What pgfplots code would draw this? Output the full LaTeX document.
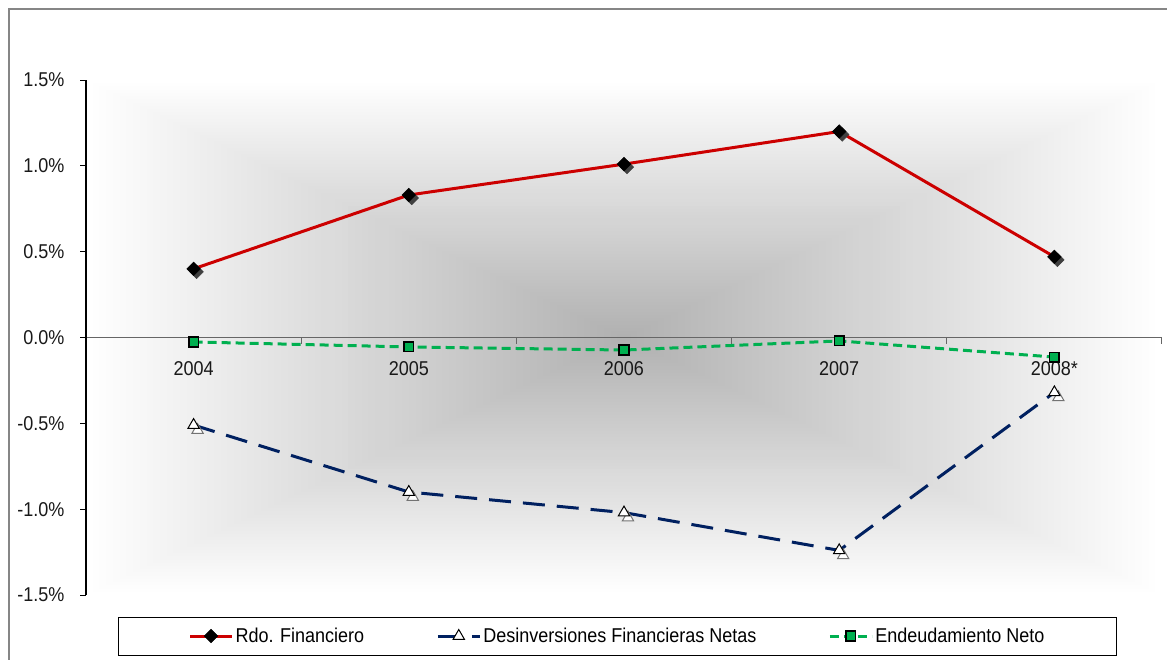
\documentclass[border=0pt]{standalone}
\usepackage{pgfplots}
\pgfplotsset{compat=1.18}
\usepackage{pgfplotstable}
\usepackage{fontspec}
\setmainfont[FakeStretch=0.9]{Liberation Sans}

\definecolor{rdoc}{RGB}{204,0,0}
\definecolor{desc}{RGB}{0,32,96}
\definecolor{endc}{RGB}{0,176,80}
\definecolor{bgc}{gray}{0.69}
\definecolor{framec}{RGB}{134,134,134}

% Resultado financiero, desinversiones y endeudamiento (% del PIB)
\pgfplotstableread{
x rdo des end
0 0.40 -0.51 -0.026
1 0.83 -0.90 -0.055
2 1.01 -1.02 -0.073
3 1.20 -1.24 -0.020
4 0.47 -0.32 -0.114
}\datatab

\begin{document}
\begin{tikzpicture}[x=1pt,y=1pt]
\useasboundingbox (0,0) rectangle (1167,-659);

% chart frame
\begin{scope}
  \clip (0,0) rectangle (1167,-659);
  \draw[framec, line width=2pt] (1200,-9) -- (9,-9) -- (9,-700);
\end{scope}

% plot area fill: rectangular gradient, grey in the centre, white at the edges
\foreach \i in {0,...,79}{
  \pgfmathsetmacro{\t}{1-\i/80}
  \pgfmathsetmacro{\p}{100*(1-\t)}
  \fill[bgc!\p!white] (624-538*\t,-337.5-257.5*\t) rectangle (624+538*\t,-337.5+257.5*\t);
}

\begin{axis}[
  at={(86pt,-595pt)}, anchor=south west,
  scale only axis, width=1076pt, height=515pt,
  xmin=-0.5, xmax=4.5, ymin=-1.5, ymax=1.5,
  axis x line*=middle, axis y line*=left,
  x axis line style={draw=black!60, line width=1.2pt},
  y axis line style={draw=black, line width=2pt},
  xtick={0,...,4}, xticklabels={2004,2005,2006,2007,2008*},
  major x tick style={draw=none},
  minor xtick={-0.5,0.5,1.5,2.5,3.5,4.5},
  minor x tick style={draw=black!60, line width=1pt},
  minor tick length=6pt,
  ytick={-1.5,-1,...,1.5},
  yticklabels={-1.5\%,-1.0\%,-0.5\%,0.0\%,0.5\%,1.0\%,1.5\%},
  y tick style={draw=black, line width=1pt},
  major tick length=6pt,
  tick align=outside,
  tick label style={font=\fontsize{20}{24}\selectfont, text=black!90},
  xticklabel style={yshift=-14pt},
  yticklabel style={xshift=-12pt},
  clip=false,
  legend columns=3,
  legend style={at={(0.494,-0.0796)}, anchor=center, draw=black, line width=1pt,
    font=\fontsize{20}{24}\selectfont, inner xsep=70pt, inner ysep=9pt,
    /tikz/every even column/.append style={column sep=70pt}},
  legend image code/.code={\draw[mark repeat=2,mark phase=2,#1]
    plot coordinates {(0pt,0pt) (21pt,0pt) (42pt,0pt)};},
]
% marker shadows
\addplot[forget plot, only marks, mark=square*, mark size=4.8pt,
  mark options={xshift=3pt, yshift=-3pt, rotate=45, fill=black!75, draw=black!75}]
  table[x=x, y=rdo]{\datatab};
\addplot[forget plot, only marks, mark=triangle*, mark size=6.5pt,
  mark options={xshift=4pt, yshift=-5pt, fill=white, draw=black!55, line width=1pt}]
  table[x=x, y=des]{\datatab};

\addplot[rdoc, line width=3pt, mark=square*, mark size=4.8pt,
  mark options={rotate=45, solid, fill=black, draw=black, line width=0.5pt}]
  table[x=x, y=rdo]{\datatab};
\addlegendentry{Rdo. Financiero}

\addplot[desc, line width=3pt, dash pattern=on 22pt off 12pt, mark=triangle*, mark size=6.5pt,
  mark options={solid, fill=white, draw=black, line width=1pt}]
  table[x=x, y=des]{\datatab};
\addlegendentry{Desinversiones Financieras Netas}

\addplot[endc, line width=3pt, dash pattern=on 9pt off 5pt, mark=square*, mark size=4.8pt,
  mark options={solid, fill=endc, draw=black, line width=1.5pt}]
  table[x=x, y=end]{\datatab};
\addlegendentry{Endeudamiento Neto}
\end{axis}
\end{tikzpicture}
\end{document}
